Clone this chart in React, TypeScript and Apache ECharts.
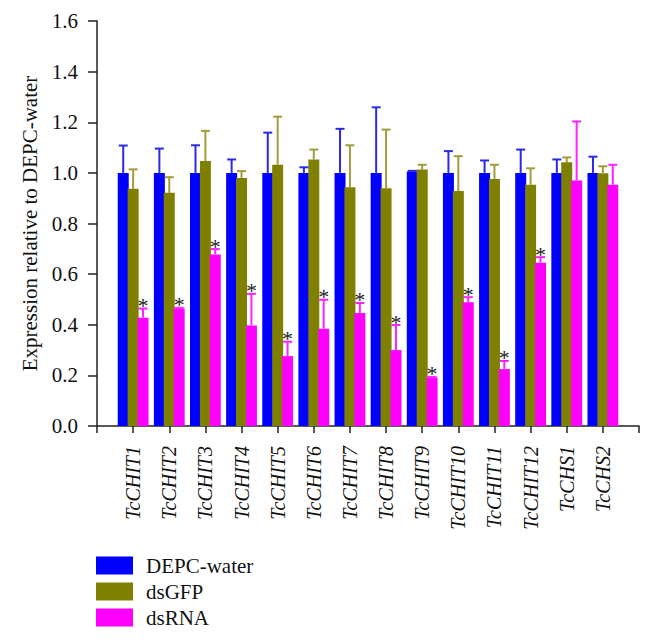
import React, { useEffect, useRef } from "react";
import * as echarts from "echarts";

const categories = ["TcCHIT1", "TcCHIT2", "TcCHIT3", "TcCHIT4", "TcCHIT5", "TcCHIT6", "TcCHIT7", "TcCHIT8", "TcCHIT9", "TcCHIT10", "TcCHIT11", "TcCHIT12", "TcCHS1", "TcCHS2"];
const seriesNames = ["DEPC-water", "dsGFP", "dsRNA"];
const depcValues = [1.0, 1.0, 1.0, 1.0, 1.0, 1.0, 1.0, 1.0, 1.005, 1.0, 1.0, 1.0, 1.0, 1.0];
const depcErr = [0.108, 0.096, 0.109, 0.053, 0.159, 0.022, 0.174, 0.259, 0.003, 0.086, 0.049, 0.092, 0.053, 0.064];
const gfpValues = [0.937, 0.921, 1.047, 0.98, 1.032, 1.053, 0.943, 0.939, 1.013, 0.928, 0.976, 0.953, 1.042, 0.999];
const gfpErr = [0.077, 0.062, 0.119, 0.027, 0.19, 0.039, 0.166, 0.232, 0.019, 0.138, 0.056, 0.065, 0.019, 0.027];
const rnaValues = [0.428, 0.464, 0.678, 0.397, 0.276, 0.384, 0.446, 0.3, 0.191, 0.489, 0.225, 0.645, 0.97, 0.953];
const rnaErr = [0.036, 0.003, 0.021, 0.125, 0.057, 0.115, 0.04, 0.099, 0.003, 0.02, 0.032, 0.022, 0.233, 0.079];
const significant = [true, true, true, true, true, true, true, true, true, true, true, true, false, false];
const yTicks = [0, 0.2, 0.4, 0.6, 0.8, 1.0, 1.2, 1.4, 1.6];

const barColors = ["#0000ff", "#808000", "#ff00ff"];
const errColors = ["#2a2ae6", "#a19b3c", "#ff22ff"];
const FONT = "Liberation Serif";
const BAR_W = 11;
const BAR_GAP = -0.1;

export default function App() {
  const ref = useRef<HTMLDivElement>(null);
  useEffect(() => {
    if (!ref.current) return;
    document.body.style.margin = "0";
    const chart = echarts.init(ref.current, null, { renderer: "svg" });
    const axisCats = ["", ...categories, ""];
    const pad = (a: number[]) => ["-", ...a, "-"];
    const allVals = [depcValues, gfpValues, rnaValues];
    const allErr = [depcErr, gfpErr, rnaErr];

    const bars = seriesNames.map((n, i) => ({
      type: "bar",
      name: n,
      data: pad(allVals[i]),
      barWidth: BAR_W,
      barGap: `${BAR_GAP * 100}%`,
      itemStyle: { color: barColors[i] },
      z: 2,
    }));

    const errs = seriesNames.map((n, i) => ({
      type: "custom",
      name: "err-" + n,
      z: 3,
      data: categories.map((_, k) => [k + 1, allVals[i][k], allVals[i][k] + allErr[i][k], i === 2 && significant[k] ? 1 : 0]),
      encode: { x: 0, y: [1, 2] },
      renderItem: (params: any, api: any) => {
        const idx = api.value(0);
        const base = api.coord([idx, api.value(1)]);
        const top = api.coord([idx, api.value(2)]);
        const offset = (i - 1) * BAR_W * (1 + BAR_GAP);
        const x = base[0] + offset;
        const children: any[] = [
          { type: "line", shape: { x1: x, y1: base[1], x2: x, y2: top[1] }, style: { stroke: errColors[i], lineWidth: 2 } },
          { type: "line", shape: { x1: x - 4.5, y1: top[1], x2: x + 4.5, y2: top[1] }, style: { stroke: errColors[i], lineWidth: 2 } },
        ];
        if (api.value(3) === 1) {
          children.push({
            type: "text",
            style: { text: "*", x: x, y: top[1] + 8, align: "center", verticalAlign: "bottom", fontSize: 22, fontFamily: FONT, fill: "#222" },
          });
        }
        return { type: "group", children };
      },
    }));

    chart.setOption({
      animation: false,
      grid: { left: 97, right: 15, top: 21, bottom: 216, containLabel: false },
      legend: {
        data: seriesNames.map((n) => ({ name: n, icon: "rect" })),
        orient: "vertical",
        left: 96,
        top: 555,
        padding: 0,
        height: 300,
        itemWidth: 37,
        itemHeight: 18,
        itemGap: 5,
        textStyle: { fontFamily: FONT, fontSize: 21, lineHeight: 18, color: "#111", padding: [0, 0, 0, 8] },
        selectedMode: false,
      },
      xAxis: {
        type: "category",
        data: axisCats,
        boundaryGap: false,
        axisLine: { lineStyle: { color: "#222", width: 1.5 } },
        axisTick: { show: true, interval: 0, length: 7, lineStyle: { color: "#222", width: 1.5 } },
        axisLabel: { interval: 0, rotate: 90, margin: 20, fontFamily: FONT, fontStyle: "italic", fontSize: 20, color: "#111" },
        splitLine: { show: false },
      },
      yAxis: {
        type: "value",
        min: yTicks[0],
        max: yTicks[yTicks.length - 1],
        interval: 0.2,
        name: "Expression relative to DEPC-water",
        nameLocation: "middle",
        nameGap: 56,
        nameTextStyle: { fontFamily: FONT, fontSize: 21, color: "#111" },
        axisLine: { show: true, lineStyle: { color: "#222", width: 1.5 } },
        axisTick: { show: true, length: 9, lineStyle: { color: "#222", width: 1.5 } },
        axisLabel: { margin: 19, fontFamily: FONT, fontSize: 21, color: "#111", formatter: (v: number) => v.toFixed(1) },
        splitLine: { show: false },
      },
      series: [...bars, ...errs],
    });
    return () => chart.dispose();
  }, []);
  return <div ref={ref} style={{ width: 654, height: 642 }} />;
}
